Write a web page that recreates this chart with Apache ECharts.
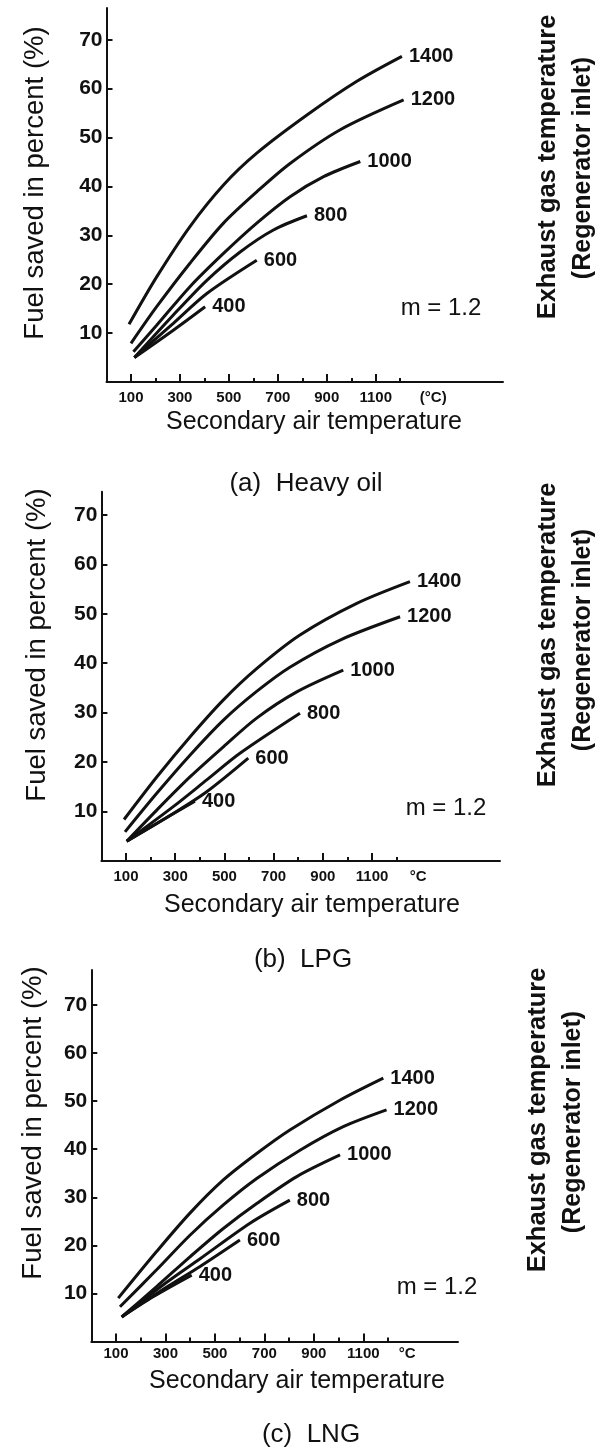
<!DOCTYPE html>
<html>
<head>
<meta charset="utf-8">
<title>Fuel saved vs secondary air temperature</title>
<script src="https://cdn.jsdelivr.net/npm/echarts@6/dist/echarts.min.js"></script>
<style>
  html, body { margin: 0; padding: 0; background: #fff; }
  #chart { width: 598px; height: 1453px; }
</style>
</head>
<body>
<div id="chart"></div>
<script>
  // exhaust gas temperature of each curve (regenerator inlet)
  const exhaustTemps = ['1400', '1200', '1000', '800', '600', '400'];
  const majorTicks = [100, 300, 500, 700, 900, 1100];
  const minorTicks = [200, 400, 600, 800, 1000, 1200];
  const yTicks = [10, 20, 30, 40, 50, 60, 70];

  // (a) heavy oil : [secondary air temp, fuel saved %]
  const oil1400 = [[92, 11.8], [205, 21.5], [341, 31.8], [478, 40.3], [614, 46.8], [819, 54.6], [1023, 61.5], [1207, 66.6]];
  const oil1200 = [[100, 7.9], [205, 15.4], [341, 24.3], [478, 32.5], [614, 38.9], [750, 44.7], [955, 51.6], [1214, 57.7]];
  const oil1000 = [[110, 6.2], [205, 11.6], [341, 19.5], [478, 26.3], [614, 32.5], [750, 37.9], [887, 42.0], [1037, 45.1]];
  const oil800 = [[114, 5.0], [273, 13.7], [410, 20.8], [546, 26.6], [682, 31.1], [819, 34.0]];
  const oil600 = [[114, 5.0], [273, 12.0], [410, 18.1], [614, 24.9]];
  const oil400 = [[114, 5.0], [273, 10.6], [403, 15.4]];

  // (b) LPG
  const lpg1400 = [[92, 8.4], [225, 17.0], [360, 25.1], [496, 32.6], [631, 38.9], [807, 45.7], [1038, 52.1], [1254, 56.5]];
  const lpg1200 = [[96, 5.9], [225, 13.7], [360, 21.4], [496, 28.5], [631, 34.3], [766, 39.2], [970, 44.7], [1214, 49.4]];
  const lpg1000 = [[103, 4.0], [225, 10.3], [360, 17.0], [496, 23.1], [631, 28.9], [794, 34.2], [983, 38.6]];
  const lpg800 = [[103, 4.0], [292, 11.0], [428, 16.4], [563, 21.8], [807, 29.9]];
  const lpg600 = [[103, 4.0], [292, 9.6], [428, 14.0], [597, 20.8]];
  const lpg400 = [[103, 4.0], [225, 7.6], [380, 12.1]];

  // (c) LNG
  const lng1400 = [[109, 9.0], [264, 18.7], [399, 26.7], [534, 33.6], [669, 39.1], [803, 44.0], [1005, 50.2], [1181, 54.8]];
  const lng1200 = [[116, 7.2], [264, 14.9], [399, 22.1], [534, 28.4], [669, 33.9], [844, 39.8], [1019, 44.7], [1194, 48.2]];
  const lng1000 = [[123, 5.1], [264, 11.4], [399, 17.6], [534, 23.5], [669, 28.7], [831, 34.3], [1006, 38.8]];
  const lng800 = [[123, 5.1], [305, 12.3], [440, 17.2], [642, 24.6], [803, 29.4]];
  const lng600 = [[123, 5.1], [305, 11.3], [440, 15.6], [601, 21.1]];
  const lng400 = [[123, 5.1], [250, 9.3], [406, 13.8]];

  const FONT = 'Liberation Sans, Arial, sans-serif';
  const INK = '#111';

  const panels = [
    {
      grid: { left: 106.5, top: 8, right: 95, height: 374 },
      xMax: 1620, yMax: 76.5, unit: '(°C)', unitAt: 1335, xLabelMargin: 8,
      curves: [oil1400, oil1200, oil1000, oil800, oil600, oil400],
    },
    {
      grid: { left: 101.4, top: 491.7, right: 98, height: 369.3 },
      xMax: 1620, yMax: 74.7, unit: '°C', unitAt: 1287, xLabelMargin: 8,
      curves: [lpg1400, lpg1200, lpg1000, lpg800, lpg600, lpg400],
    },
    {
      grid: { left: 91.3, top: 970, right: 140, height: 371.4 },
      xMax: 1483, yMax: 77.3, unit: '°C', unitAt: 1277, xLabelMargin: 5,
      curves: [lng1400, lng1200, lng1000, lng800, lng600, lng400],
    },
  ];

  const grids = [];
  const xAxes = [];
  const yAxes = [];
  const series = [];

  panels.forEach((p, i) => {
    grids.push(p.grid);
    // main x axis: odd hundreds get ticks and labels
    xAxes.push({
      type: 'value', gridIndex: i, position: 'bottom', min: 0, max: p.xMax,
      axisLine: { lineStyle: { color: INK, width: 2 } },
      axisTick: { inside: true, length: 8, customValues: majorTicks, lineStyle: { color: INK, width: 2 } },
      axisLabel: {
        customValues: majorTicks.concat([p.unitAt]),
        formatter: (v) => (v === p.unitAt ? p.unit : String(v)),
        color: INK, fontFamily: FONT, fontWeight: 'bold', fontSize: 15,
        margin: p.xLabelMargin, hideOverlap: false,
      },
      splitLine: { show: false },
    });
    // second axis only for the short ticks at even hundreds
    xAxes.push({
      type: 'value', gridIndex: i, position: 'bottom', min: 0, max: p.xMax,
      axisLine: { show: false },
      axisTick: { inside: true, length: 4, customValues: minorTicks, lineStyle: { color: INK, width: 2 } },
      axisLabel: { show: false },
      splitLine: { show: false },
    });
    yAxes.push({
      type: 'value', gridIndex: i, min: 0, max: p.yMax,
      axisLine: { show: true, lineStyle: { color: INK, width: 2 } },
      axisTick: { show: true, inside: true, length: 6, customValues: yTicks, lineStyle: { color: INK, width: 2 } },
      axisLabel: {
        customValues: yTicks, color: INK, fontFamily: FONT,
        fontWeight: 'bold', fontSize: 21, margin: 4,
      },
      splitLine: { show: false },
    });

    p.curves.forEach((data, k) => {
      series.push({
        type: 'line', name: exhaustTemps[k],
        xAxisIndex: i * 2, yAxisIndex: i,
        data: data, smooth: 0.3, showSymbol: false, silent: true,
        lineStyle: { color: INK, width: 3 },
        endLabel: {
          show: true, formatter: '{a}', distance: 7,
          color: INK, fontFamily: FONT, fontWeight: 'bold', fontSize: 20,
        },
      });
    });
  });

  const txt = (x, y, text, size, opts) => Object.assign({
    type: 'text', x: x, y: y,
    style: {
      text: text, fill: INK, font: (opts && opts.bold ? 'bold ' : '') + size + 'px ' + FONT,
      textAlign: 'center', textVerticalAlign: 'middle',
    },
  }, opts && opts.rot ? { rotation: Math.PI / 2 } : {});

  const graphics = [
    // (a)
    txt(35, 183, 'Fuel saved in percent (%)', 27.5, { rot: true }),
    txt(548, 167, 'Exhaust gas temperature', 25.5, { rot: true, bold: true }),
    txt(583, 168, '(Regenerator inlet)', 25, { rot: true, bold: true }),
    txt(314, 422, 'Secondary air temperature', 25),
    txt(441, 308, 'm = 1.2', 24),
    txt(306, 484, '(a)  Heavy oil', 26),
    // (b)
    txt(37, 645, 'Fuel saved in percent (%)', 27.5, { rot: true }),
    txt(548, 635, 'Exhaust gas temperature', 25.5, { rot: true, bold: true }),
    txt(583, 640, '(Regenerator inlet)', 25, { rot: true, bold: true }),
    txt(312, 905, 'Secondary air temperature', 25),
    txt(446, 808, 'm = 1.2', 24),
    txt(303, 960, '(b)  LPG', 26),
    // (c)
    txt(33, 1123, 'Fuel saved in percent (%)', 27.5, { rot: true }),
    txt(538, 1120, 'Exhaust gas temperature', 25.5, { rot: true, bold: true }),
    txt(573, 1122, '(Regenerator inlet)', 25, { rot: true, bold: true }),
    txt(297, 1381, 'Secondary air temperature', 25),
    txt(437, 1287, 'm = 1.2', 24),
    txt(311, 1435, '(c)  LNG', 26),
  ];

  const myChart = echarts.init(document.getElementById('chart'), null, { renderer: 'canvas' });
  myChart.setOption({
    animation: false,
    backgroundColor: '#fff',
    grid: grids,
    xAxis: xAxes,
    yAxis: yAxes,
    series: series,
    graphic: graphics,
  });
</script>
</body>
</html>
